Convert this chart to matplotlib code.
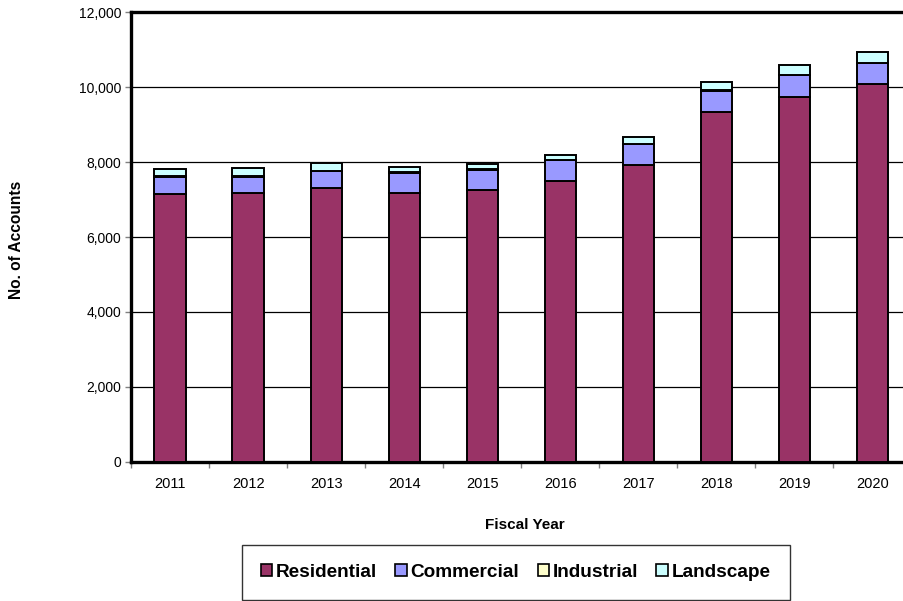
import numpy as np
import matplotlib.pyplot as plt
from matplotlib.ticker import FuncFormatter, FixedLocator
from matplotlib.patches import Patch

plt.rcParams['font.family'] = ['Liberation Sans', 'DejaVu Sans']

years = ['2011', '2012', '2013', '2014', '2015', '2016', '2017', '2018', '2019', '2020']
residential = [7155, 7181, 7299, 7181, 7245, 7493, 7928, 9341, 9741, 10080]
commercial = [453, 427, 461, 534, 550, 560, 544, 560, 579, 552]
industrial = [10, 10, 10, 10, 10, 10, 10, 10, 10, 10]
landscape = [195, 214, 211, 134, 134, 132, 193, 230, 248, 283]

series = [('Residential', residential, '#993366'),
          ('Commercial', commercial, '#9999FF'),
          ('Industrial', industrial, '#FFFFCC'),
          ('Landscape', landscape, '#CCFFFF')]

fig = plt.figure(figsize=(9.04, 6.01), dpi=100)
ax = fig.add_axes([0.1449, 0.2313, 0.8634, 0.7487])

x = np.arange(len(years))
bottom = np.zeros(len(years))
for name, vals, col in series:
    ax.bar(x, vals, width=0.4, bottom=bottom, color=col, edgecolor='black',
           linewidth=1.4, zorder=3)
    bottom += np.array(vals)

ax.set_ylim(0, 12000)
ax.set_xlim(-0.5, len(years) - 0.5)
ax.set_yticks(np.arange(0, 12001, 2000))
ax.yaxis.set_major_formatter(FuncFormatter(lambda v, p: f'{int(v):,}'))
ax.yaxis.grid(True, color='black', linewidth=0.9, zorder=0)

# category labels centred, ticks between categories
ax.xaxis.set_major_locator(FixedLocator(np.arange(-0.5, len(years), 1.0)))
ax.xaxis.set_minor_locator(FixedLocator(x))
ax.set_xticklabels([], minor=False)
ax.set_xticklabels(years, minor=True)
ax.tick_params(axis='x', which='minor', length=0, pad=11, labelsize=10.5)
ax.tick_params(axis='x', which='major', length=4, color='#808080', width=1)
ax.tick_params(axis='y', length=4, color='#808080', width=1, labelsize=10, pad=3)

for s in ['top', 'left', 'bottom', 'right']:
    ax.spines[s].set_linewidth(2.4)
    ax.spines[s].set_color('black')

fig.text(0.0188, 0.6007, 'No. of Accounts', rotation=90, ha='center', va='center',
         fontsize=11.2, fontweight='bold')
fig.text(0.5805, 0.126, 'Fiscal Year', ha='center', va='center',
         fontsize=11, fontweight='bold')

handles = [Patch(facecolor=c, edgecolor='black', linewidth=1.2) for _, _, c in series]
leg = fig.legend(handles, [n for n, _, _ in series], loc='center',
                 bbox_to_anchor=(0.5705, 0.0474), ncol=4, frameon=True,
                 fancybox=False, handlelength=0.6, handleheight=0.6,
                 handletextpad=0.2, columnspacing=0.95, borderpad=1.0,
                 prop={'size': 13.7, 'weight': 'bold'})
leg.get_frame().set_edgecolor('black')
leg.get_frame().set_linewidth(1.0)

fig.savefig('out.png', dpi=100)
